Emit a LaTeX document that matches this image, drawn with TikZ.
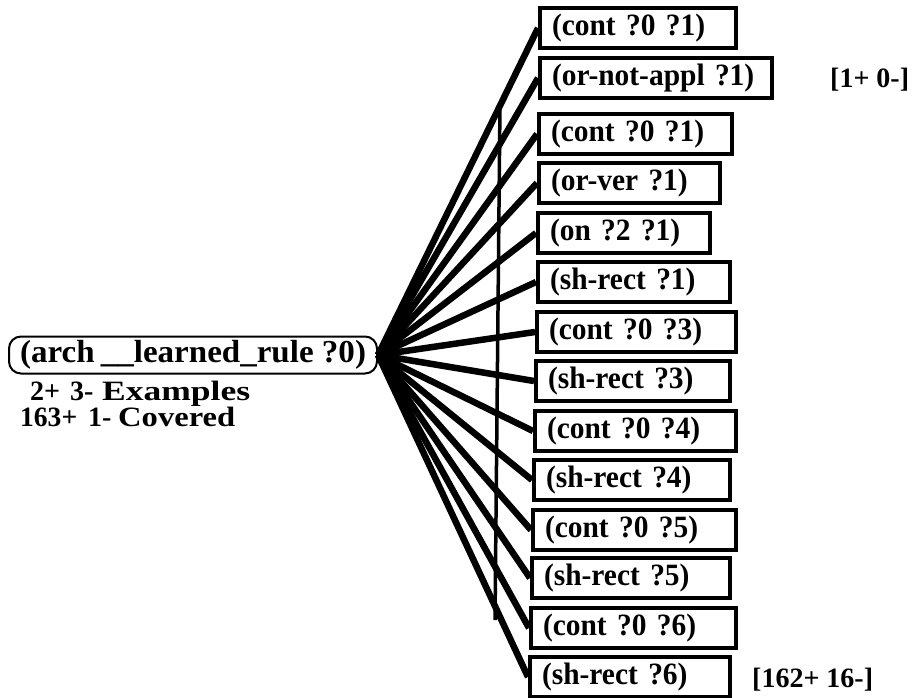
\documentclass[tikz,border=0pt]{standalone}
\usepackage{fontspec}
\usepackage{graphicx}
\setmainfont{Liberation Serif}
\newfontfamily\litfont{Liberation Serif}[FakeStretch=0.95,WordSpace=0.8]
\begin{document}
\begin{tikzpicture}[x=1pt,y=-1pt,
  every node/.style={font=\fontsize{28}{30}\selectfont\bfseries},
  term/.style={draw, line width=4pt, rectangle, anchor=west, minimum height=40pt,
    inner xsep=12pt, inner ysep=0pt, align=left,
    font=\litfont\fontsize{31}{33}\selectfont\bfseries},
  rulebox/.style={draw, line width=2pt, rounded corners=12pt, minimum width=368pt,
    minimum height=37pt, inner sep=0pt, font=\fontsize{32}{34}\selectfont\bfseries},
  fan/.style={line width=6.5pt},
  divider/.style={line width=3.5pt},
  count/.style={anchor=base west, inner sep=0pt},
  small/.style={count, font=\fontsize{28}{30}\selectfont\bfseries}]
\useasboundingbox (0,0) rectangle (915,698);

% the learned rule (head)
\node[rulebox] (rule) at (193,355)
  {\resizebox{346pt}{\height}{(arch\kern6pt\_\_learned\_rule ?0)}};
\node[small] (ex1) at (30,400) {2+};
\node[small] (ex2) at (70,400) {3-};
\node[small] (ex3) at (102,400) {\resizebox{148pt}{\height}{Examples}};
\node[small] (cv1) at (20,426) {\resizebox{57pt}{\height}{163+}};
\node[small] (cv2) at (88,426) {1-};
\node[small] (cv3) at (118,426) {\resizebox{117pt}{\height}{Covered}};

% body literals
\node[term, text width=172pt] (t1)  at (538,28)  {(cont ?0 ?1)};
\node[term, text width=208pt] (t2)  at (538,78)  {(or-not-appl ?1)};
\node[term, text width=169pt] (t3)  at (537,134) {(cont ?0 ?1)};
\node[term, text width=157pt] (t4)  at (537,183) {(or-ver ?1)};
\node[term, text width=148pt] (t5)  at (536,233) {(on ?2 ?1)};
\node[term, text width=168pt] (t6)  at (536,282) {(sh-rect ?1)};
\node[term, text width=175pt] (t7)  at (535,332) {(cont ?0 ?3)};
\node[term, text width=170pt] (t8)  at (534,381) {(sh-rect ?3)};
\node[term, text width=177pt] (t9)  at (533,431) {(cont ?0 ?4)};
\node[term, text width=172pt] (t10) at (532,480) {(sh-rect ?4)};
\node[term, text width=179pt] (t11) at (531,530) {(cont ?0 ?5)};
\node[term, text width=174pt] (t12) at (530,578) {(sh-rect ?5)};
\node[term, text width=181pt] (t13) at (529,628) {(cont ?0 ?6)};
\node[term, text width=176pt] (t14) at (528,677) {(sh-rect ?6)};

% coverage counts
\node[count] (cnt1) at (830,88)  {[1+ 0-]};
\node[count] (cnt2) at (752,687) {[162+ 16-]};

% fan of connectors
\foreach \n in {t1,t2,t3,t4,t5,t6,t7,t8,t9,t10,t11,t12,t13,t14}
  \draw[fan] (rule.east) -- (\n.west);

% vertical bar across the fan
\coordinate (vtop) at (500,103);
\coordinate (vbot) at (495,620);
\draw[divider] (vtop) -- (vbot);
\end{tikzpicture}
\end{document}
